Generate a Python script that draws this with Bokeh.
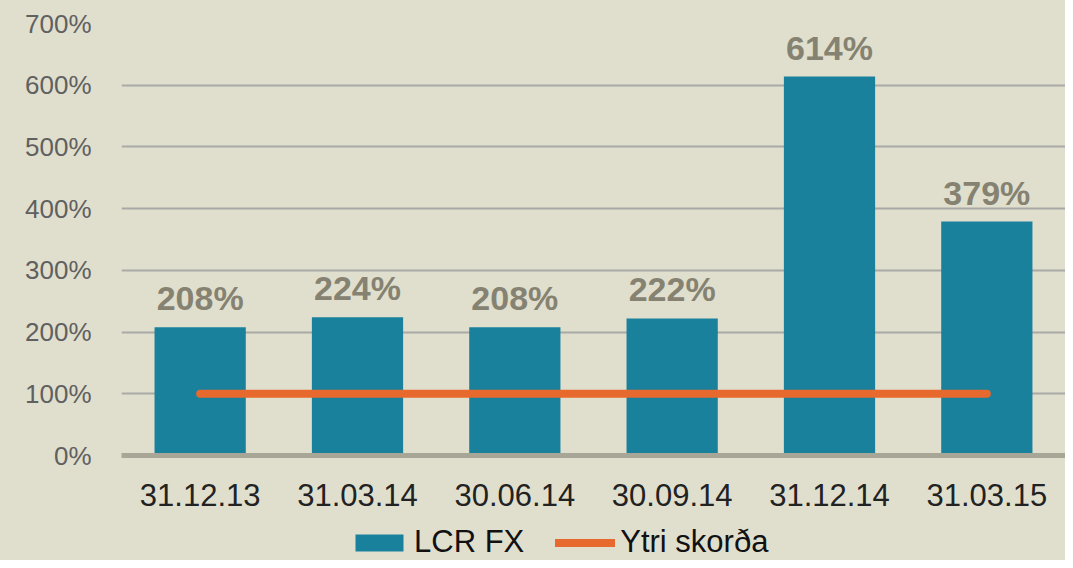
from bokeh.plotting import figure
from bokeh.models import (ColumnDataSource, FactorRange, Range1d, FixedTicker,
                          PrintfTickFormatter, Legend, LegendItem)
from bokeh.layouts import column
from bokeh.core.properties import value
from bokeh.embed import file_html
from bokeh.resources import INLINE

dates = ["31.12.13", "31.03.14", "30.06.14", "30.09.14", "31.12.14", "31.03.15"]
lcr_fx = [208, 224, 208, 222, 614, 379]
ytri_skorda = [100, 100, 100, 100, 100, 100]
y_ticks = [0, 100, 200, 300, 400, 500, 600, 700]

BG = "#E0DFCE"
FONT = "Liberation Sans"
BAR_COLOR = "#1A819D"
LINE_COLOR = "#E8692D"

src = ColumnDataSource(dict(
    x=dates, lcr=lcr_fx, lim=ytri_skorda,
    lbl=[f"{v}%" for v in lcr_fx],
))

p = figure(x_range=FactorRange(*dates, range_padding=0),
           y_range=Range1d(0, 700),
           width=1065, height=520, output_backend="svg", toolbar_location=None,
           min_border_left=121, min_border_right=0, min_border_top=23,
           min_border_bottom=65)
p.background_fill_color = BG
p.border_fill_color = BG
p.outline_line_color = None

p.vbar(x="x", top="lcr", width=0.58, source=src,
       fill_color=BAR_COLOR, line_color=None)
p.line(x="x", y="lim", source=src, line_color=LINE_COLOR,
       line_width=8, line_cap="round")
p.text(x="x", y="lcr", text="lbl", source=src, text_align="center",
       text_baseline="alphabetic", y_offset=-29,
       text_font=value(FONT), text_font_style="bold",
       text_font_size="34px", text_color="#868272")

p.xgrid.grid_line_color = None
p.ygrid.grid_line_color = "#A9A9A6"
p.ygrid.grid_line_width = 2
p.ygrid.ticker = FixedTicker(ticks=y_ticks)

p.yaxis.ticker = FixedTicker(ticks=y_ticks)
p.yaxis.formatter = PrintfTickFormatter(format="%d%%")
p.yaxis.axis_line_color = None
p.yaxis.major_tick_line_color = None
p.yaxis.minor_tick_line_color = None
p.yaxis.major_label_text_font = FONT
p.yaxis.major_label_text_font_size = "26px"
p.yaxis.major_label_text_color = "#606060"
p.yaxis.major_label_standoff = 24

p.xaxis.axis_line_color = "#A8A797"
p.xaxis.axis_line_width = 5
p.xaxis.major_tick_line_color = None
p.xaxis.minor_tick_line_color = None
p.xaxis.major_label_text_font = FONT
p.xaxis.major_label_text_font_size = "31px"
p.xaxis.major_label_text_color = "#222222"
p.xaxis.major_label_standoff = 22

# legend strip below the chart; its x range holds no series category, so the
# series renderers draw nothing there and only the legend swatches show
p2 = figure(x_range=FactorRange("legend"),
            y_range=Range1d(0, 700),
            width=1065, height=40, output_backend="svg", toolbar_location=None,
            x_axis_type=None, y_axis_type=None,
            min_border_left=121, min_border_right=0, min_border_top=0,
            min_border_bottom=0)
p2.background_fill_color = BG
p2.border_fill_color = BG
p2.outline_line_color = None
p2.xgrid.grid_line_color = None
p2.ygrid.grid_line_color = None
lg_bar = p2.vbar(x="x", top="lcr", width=0.58, source=src,
                 fill_color=BAR_COLOR, line_color=None)
lg_line = p2.line(x="x", y="lim", source=src, line_color=LINE_COLOR,
                  line_width=8, line_cap="round")

legend = Legend(items=[LegendItem(label="LCR FX", renderers=[lg_bar]),
                       LegendItem(label="Ytri skorða", renderers=[lg_line])],
                orientation="horizontal", location=(228, 0),
                label_text_font=FONT, label_text_font_size="31px",
                label_text_color="#111111",
                glyph_width=60, glyph_height=21, label_standoff=5,
                spacing=31, padding=0, margin=0,
                border_line_color=None, background_fill_alpha=0)
p2.add_layout(legend, "center")

layout = column(p, p2, spacing=0, styles={"background-color": BG})
open("out.html", "w").write(file_html(layout, INLINE))
